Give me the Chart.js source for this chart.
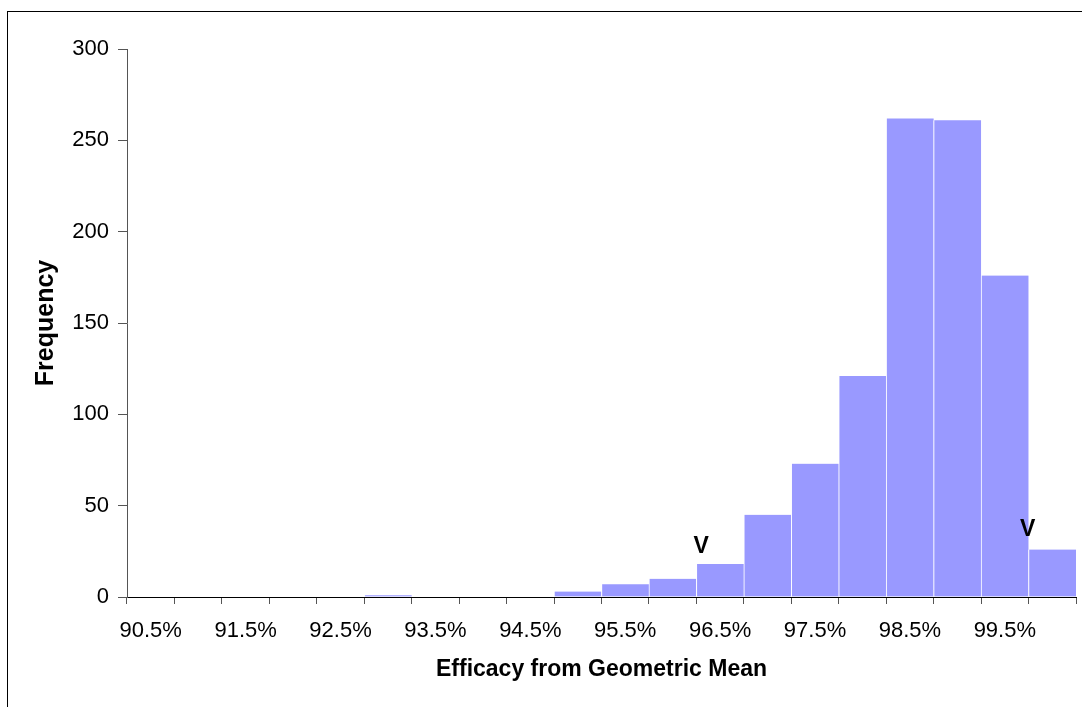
<!DOCTYPE html>
<html>
<head>
<meta charset="utf-8">
<script src="https://cdn.jsdelivr.net/npm/chart.js@4/dist/chart.umd.min.js"></script>
<style>
  html, body { margin: 0; padding: 0; background: #fff; }
  #c { display: block; }
</style>
</head>
<body>
<canvas id="c" width="1082" height="707"></canvas>
<script>
// ---- data ----
const categories = ['90.5%','91.0%','91.5%','92.0%','92.5%','93.0%','93.5%','94.0%','94.5%','95.0%',
                    '95.5%','96.0%','96.5%','97.0%','97.5%','98.0%','98.5%','99.0%','99.5%','100.0%'];
const frequencies = [0, 0, 0, 0, 0, 1, 0, 0, 0, 3, 7, 10, 18, 45, 73, 121, 262, 261, 176, 26];
const yTicks = [0, 50, 100, 150, 200, 250, 300];
// "V" markers: position on the efficacy scale (%) and height (frequency units)
const markerEfficacy = [96.30, 99.74];
const markerHeight = [27.4, 36.7];
const markerText = ['V', 'V'];
const binStart = 90.5;   // efficacy of first category
const binWidth = 0.5;    // efficacy step between categories

const FONT = "'Liberation Sans', Arial, sans-serif";

const borderPlugin = {
  id: 'outerBorder',
  beforeDraw(chart) {
    const ctx = chart.ctx;
    ctx.save();
    ctx.fillStyle = '#fff';
    ctx.fillRect(0, 0, chart.width, chart.height);
    ctx.strokeStyle = '#000';
    ctx.lineWidth = 1;
    ctx.strokeRect(7.5, 11.5, chart.width + 20, chart.height + 20);
    ctx.restore();
  }
};

const markerPlugin = {
  id: 'vMarkers',
  afterDatasetsDraw(chart) {
    const xs = chart.scales.x, ys = chart.scales.y;
    const ctx = chart.ctx;
    ctx.save();
    ctx.fillStyle = '#000';
    ctx.font = 'bold 23px ' + FONT;
    ctx.textAlign = 'center';
    ctx.textBaseline = 'middle';
    markerEfficacy.forEach((v, i) => {
      const px = xs.getPixelForValue((v - binStart) / binWidth);
      const py = ys.getPixelForValue(markerHeight[i]);
      ctx.fillText(markerText[i], px, py);
    });
    ctx.restore();
  }
};

new Chart(document.getElementById('c'), {
  type: 'bar',
  data: {
    labels: categories,
    datasets: [{
      data: frequencies,
      backgroundColor: '#9999FF',
      borderColor: '#FFFFFF',
      borderWidth: { left: 1, right: 0, top: 0, bottom: 0 },
      borderSkipped: false,
      barPercentage: 1.0,
      categoryPercentage: 1.0
    }]
  },
  options: {
    responsive: false,
    animation: false,
    events: [],
    layout: { padding: { top: 49, right: 6, left: 0, bottom: 0 } },
    plugins: { legend: { display: false }, tooltip: { enabled: false } },
    scales: {
      x: {
        type: 'category',
        offset: true,
        grid: { offset: true, drawOnChartArea: false, drawTicks: true, tickLength: 7, color: '#000', tickColor: '#555' },
        border: { display: true, color: '#000', width: 1 },
        ticks: {
          autoSkip: false, maxRotation: 0, minRotation: 0, padding: 14,
          color: '#000', font: { family: FONT, size: 22 },
          callback: function(val, idx) { return idx % 2 === 0 ? categories[idx] : ''; }
        },
        title: {
          display: true, text: 'Efficacy from Geometric Mean', color: '#000',
          font: { family: FONT, size: 23, weight: 'bold' }, padding: { top: 0, bottom: 24 }
        },
        afterFit(scale) { scale.height = 110; }
      },
      y: {
        min: 0, max: 300,
        afterBuildTicks(scale) { scale.ticks = yTicks.map(v => ({ value: v })); },
        grid: { drawOnChartArea: false, drawTicks: true, tickLength: 9, color: '#000', tickColor: '#555' },
        border: { display: true, color: '#555', width: 1 },
        ticks: { padding: 9, color: '#000', font: { family: FONT, size: 22 } },
        title: {
          display: true, text: 'Frequency', color: '#000',
          font: { family: FONT, size: 25, weight: 'bold' }, padding: { top: 31, bottom: 0 }
        },
        afterFit(scale) { scale.width = 127; }
      }
    }
  },
  plugins: [borderPlugin, markerPlugin]
});
</script>
</body>
</html>
